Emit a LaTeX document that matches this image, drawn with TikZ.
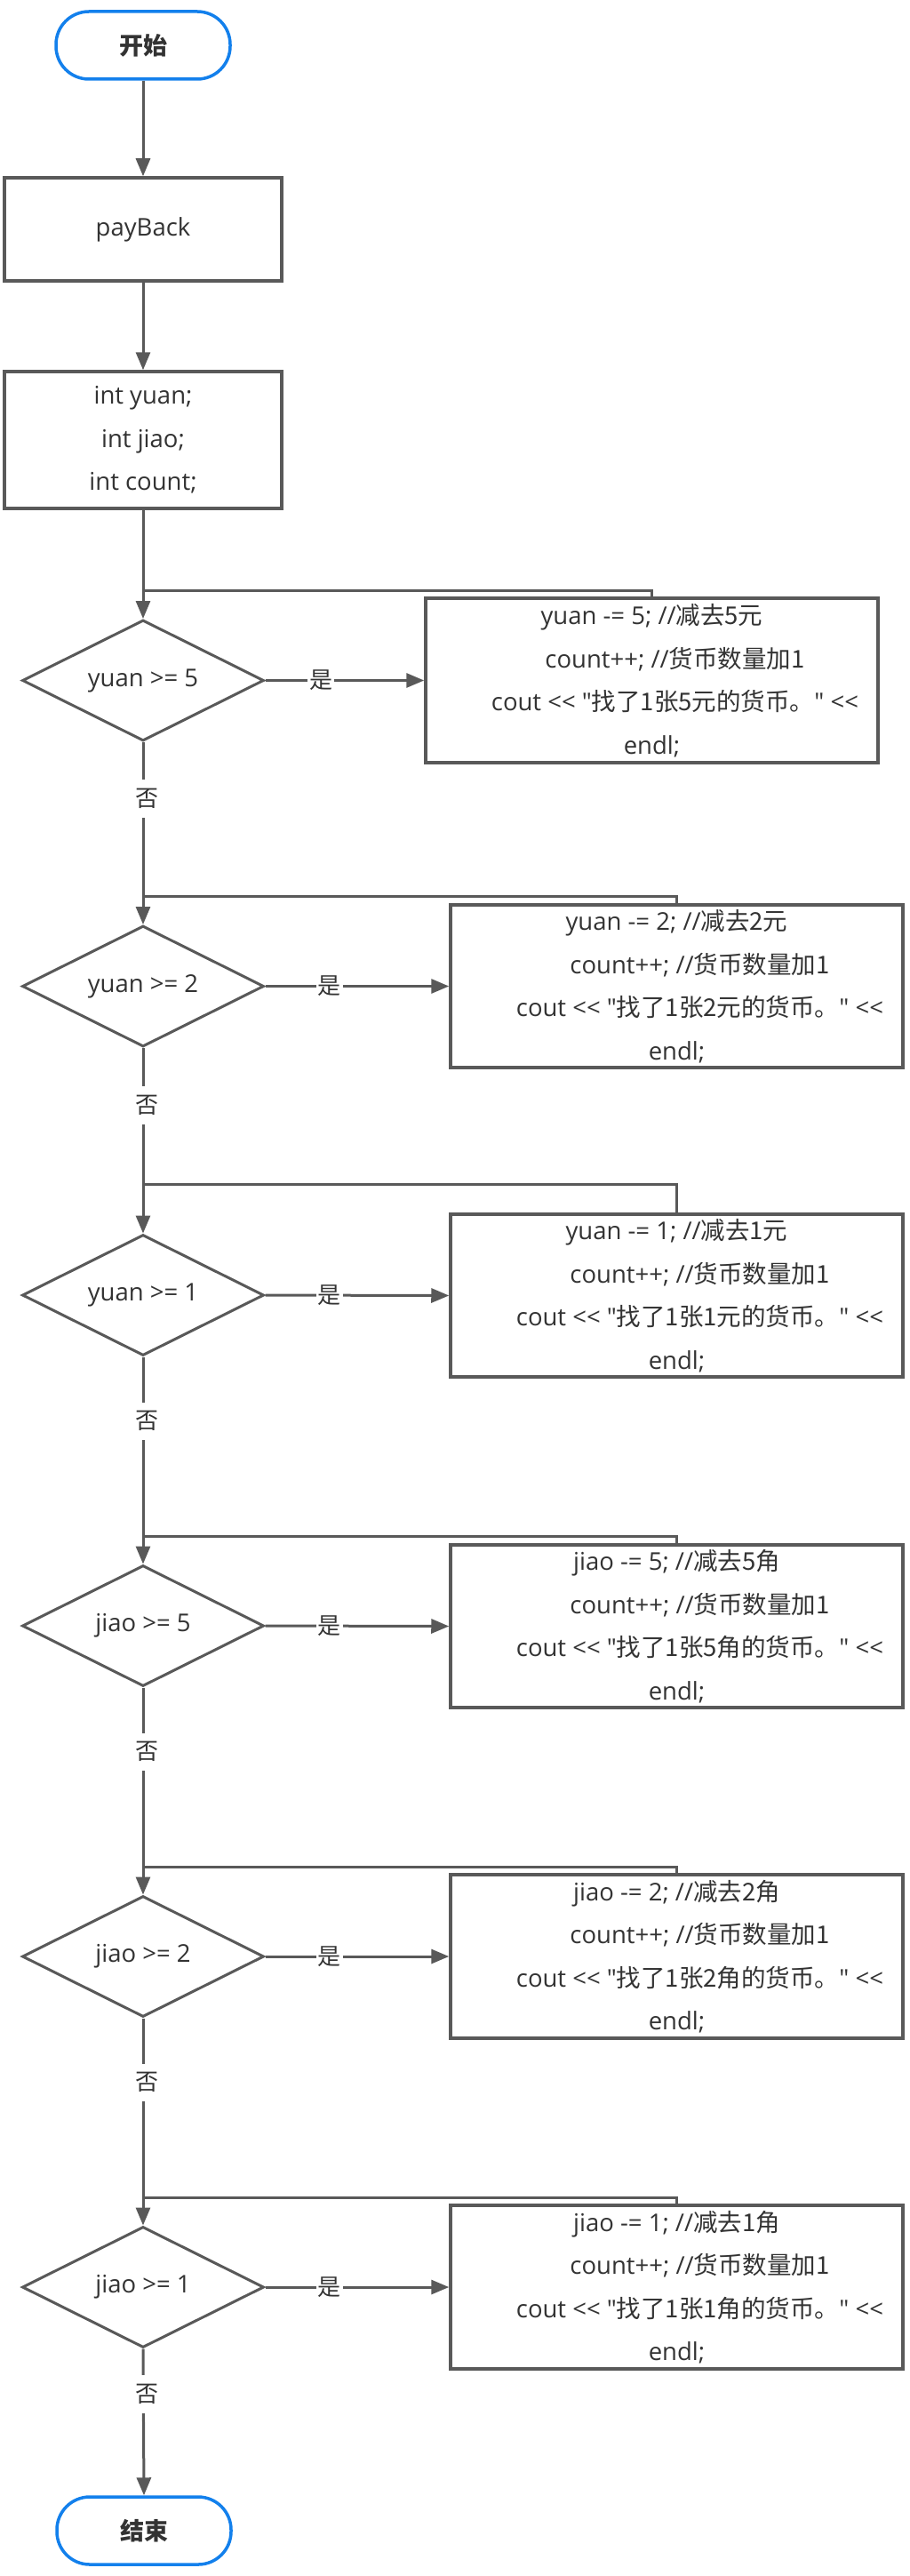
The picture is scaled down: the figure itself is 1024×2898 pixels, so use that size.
\documentclass[tikz,border=0pt]{standalone}
\usepackage{fontspec}
\newfontfamily\lat{Open Sans}
\newfontfamily\cjk{Noto Sans CJK SC}
\usetikzlibrary{arrows.meta,shapes.geometric}
\definecolor{lc}{HTML}{595959}
\definecolor{tc}{HTML}{333333}
\definecolor{bl}{HTML}{1380EC}
\newcommand\bodyfont{\fontsize{27.5pt}{48.5pt}\selectfont\lat}
\newcommand\actlines[3]{#1 -= #2; //{\cjk 减去#2#3}\\
\hspace*{52pt}count++; //{\cjk 货币数量加1}\\
\hspace*{52pt}cout << "{\cjk 找了1张#2#3的货币。}" <<\\
endl;}
\tikzset{
  ln/.style={draw=lc, line width=3pt},
  arr/.style={ln, -{Triangle[length=20pt,width=16pt]}},
  term/.style={draw=bl, line width=3.5pt, rounded corners=37pt, minimum width=196pt,
    minimum height=76pt, fill=white, text=tc, inner sep=0pt,
    font=\fontsize{27pt}{30pt}\selectfont\cjk\bfseries},
  pbox/.style={draw=lc, line width=3.5pt, fill=white, text=tc, align=center,
    inner sep=0pt, font=\bodyfont},
  dec/.style={diamond, shape aspect=2, draw=lc, line width=3pt, fill=white,
    minimum width=272pt, minimum height=136pt, inner sep=0pt, text=tc, font=\bodyfont},
  lbl/.style={fill=white, text=tc, inner xsep=2pt, inner ysep=10pt,
    font=\fontsize{26pt}{30pt}\selectfont\cjk}
}
\begin{document}
\begin{tikzpicture}[x=1pt,y=-1pt]
\useasboundingbox[fill=white] (0,0) rectangle (1024,2898);

\node[term] (start) at (161,51) {开始};
\node[pbox, minimum width=312pt, minimum height=116pt] (pay) at (161,258) {payBack};
\node[pbox, minimum width=312pt, minimum height=154pt] (vars) at (161,495)
  {int yuan;\\ int jiao;\\ int count;};

\node[dec] (d1) at (161,765.5) {yuan >= 5};
\node[dec] (d2) at (161,1109.5) {yuan >= 2};
\node[dec] (d3) at (161,1457) {yuan >= 1};
\node[dec] (d4) at (161,1829) {jiao >= 5};
\node[dec] (d5) at (161,2201) {jiao >= 2};
\node[dec] (d6) at (161,2573) {jiao >= 1};

\node[pbox, minimum width=509pt, minimum height=185pt] (b1) at (733.5,765.5) {\actlines{yuan}{5}{元}};
\node[pbox, minimum width=509pt, minimum height=183pt] (b2) at (761.5,1109.5) {\actlines{yuan}{2}{元}};
\node[pbox, minimum width=509pt, minimum height=183pt] (b3) at (761.5,1457.5) {\actlines{yuan}{1}{元}};
\node[pbox, minimum width=509pt, minimum height=183pt] (b4) at (761.5,1829.5) {\actlines{jiao}{5}{角}};
\node[pbox, minimum width=509pt, minimum height=184pt] (b5) at (761.5,2201) {\actlines{jiao}{2}{角}};
\node[pbox, minimum width=509pt, minimum height=184pt] (b6) at (761.5,2573) {\actlines{jiao}{1}{角}};

\node[term] (end) at (162,2847) {结束};

\coordinate (m1) at (161,664);
\coordinate (m2) at (161,1008);
\coordinate (m3) at (161,1332);
\coordinate (m4) at (161,1728);
\coordinate (m5) at (161,2100);
\coordinate (m6) at (161,2472);

\draw[arr] (start) -- (pay);
\draw[arr] (pay) -- (vars);
\draw[arr] (vars) -- (d1.north);

\foreach \i in {1,...,6}{
  \draw[ln] (b\i.north) |- (m\i);
  \draw[arr] (d\i.east) -- node[lbl, pos=0.35]{是} (b\i.west);
}
\foreach \i/\j in {1/2,2/3,3/4,4/5,5/6}{
  \draw[arr] (d\i.south) -- node[lbl, pos=0.31, xshift=4pt]{否} (d\j.north);
}
\draw[arr] (d6.south) -- node[lbl, pos=0.31, xshift=4pt]{否} (end.north);
\end{tikzpicture}
\end{document}
